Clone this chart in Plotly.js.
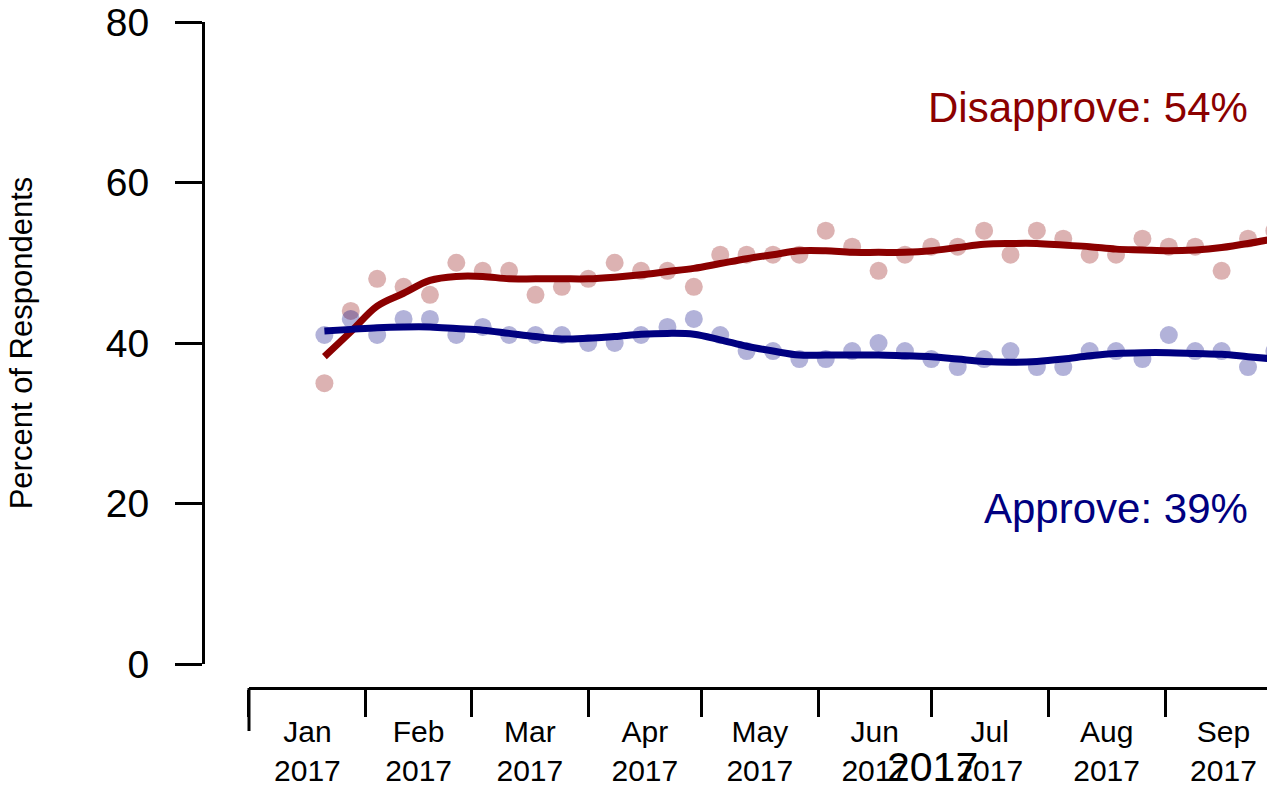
<!DOCTYPE html>
<html>
<head>
<meta charset="utf-8">
<script src="https://cdn.plot.ly/plotly-3.0.1.min.js"></script>
<style>html,body{margin:0;padding:0;background:#fff;}#chart{width:1267px;height:786px;}</style>
</head>
<body>
<div id="chart"></div>
<script>
// Weekly poll dates
var pollDates = ['2017-01-21','2017-01-28','2017-02-04','2017-02-11','2017-02-18','2017-02-25',
  '2017-03-04','2017-03-11','2017-03-18','2017-03-25','2017-04-01','2017-04-08','2017-04-15',
  '2017-04-22','2017-04-29','2017-05-06','2017-05-13','2017-05-20','2017-05-27','2017-06-03',
  '2017-06-10','2017-06-17','2017-06-24','2017-07-01','2017-07-08','2017-07-15','2017-07-22',
  '2017-07-29','2017-08-05','2017-08-12','2017-08-19','2017-08-26','2017-09-02','2017-09-09',
  '2017-09-16','2017-09-23','2017-09-30'];
// Raw weekly values (percent)
var disapprove = [35,44,48,47,46,50,49,49,46,47,48,50,49,49,47,51,51,51,51,54,52,49,51,52,52,54,51,54,53,51,51,53,52,52,49,53,54];
var approve    = [41,43,41,43,43,41,42,41,41,41,40,40,41,42,43,41,39,39,38,38,39,40,39,38,37,38,39,37,37,39,39,38,41,39,39,37,39];
// Smoothed trend lines
var disapproveTrend = [38.3,41.4,44.6,46.2,47.8,48.3,48.3,48.0,48.0,48.0,48.0,48.2,48.5,48.9,49.3,49.9,50.5,51.0,51.5,51.5,51.3,51.3,51.3,51.5,51.9,52.3,52.4,52.4,52.2,52.0,51.7,51.6,51.5,51.6,51.9,52.4,53.0];
var approveTrend    = [41.5,41.7,41.9,42.0,42.0,41.8,41.6,41.2,40.8,40.5,40.6,40.8,41.1,41.2,41.1,40.4,39.6,39.0,38.5,38.5,38.5,38.5,38.4,38.3,38.0,37.7,37.6,37.7,38.0,38.4,38.7,38.8,38.8,38.7,38.6,38.3,38.0];
// Axis ticks and labels
var yTickVals = [0,20,40,60,80];
var yTickText = ['0','20','40','60','80'];
var xRange = ['2017-01-01','2017-09-28 01:00'];
var labelDisapprove = 'Disapprove: 54%';
var labelApprove = 'Approve: 39%';
var yTitle = 'Percent of Respondents';
var xTitle = '2017';

var RED = '#8B0000', NAVY = '#000080';
var FONT = 'Liberation Sans, Arial, sans-serif';

var traces = [
  {x: pollDates, y: disapprove, type:'scatter', mode:'markers', marker:{color:RED, size:18, opacity:0.3}, hoverinfo:'skip'},
  {x: pollDates, y: approve, type:'scatter', mode:'markers', marker:{color:NAVY, size:18, opacity:0.3}, hoverinfo:'skip'},
  {x: pollDates, y: disapproveTrend, type:'scatter', mode:'lines', line:{color:RED, width:7, shape:'spline'}, hoverinfo:'skip'},
  {x: pollDates, y: approveTrend, type:'scatter', mode:'lines', line:{color:NAVY, width:7, shape:'spline'}, hoverinfo:'skip'}
];

var layout = {
  width:1267, height:786,
  margin:{l:203, r:0, t:22, b:98, pad:0},
  paper_bgcolor:'#fff', plot_bgcolor:'#fff',
  showlegend:false,
  font:{family:FONT, color:'#000'},
  xaxis:{
    domain:[0.04323,1], anchor:'free', position:0,
    type:'date', range:xRange,
    tick0:'2017-01-01', dtick:'M1', tickformat:'%b<br>%Y', ticklabelmode:'period',
    ticks:'outside', ticklen:27, tickwidth:3, tickcolor:'#000',
    ticklabelstandoff:-11,
    showline:true, linewidth:3, linecolor:'#000',
    showgrid:false, zeroline:false,
    tickfont:{family:FONT, size:30, color:'#000'}
  },
  yaxis:{
    domain:[0.036,1], anchor:'free', position:0,
    range:[0,80], tickmode:'array', tickvals:yTickVals, ticktext:yTickText,
    ticks:'outside', ticklen:27, tickwidth:3, tickcolor:'#000',
    ticklabelstandoff:18,
    showline:true, linewidth:3, linecolor:'#000',
    showgrid:false, zeroline:false,
    tickfont:{family:FONT, size:39, color:'#000'},
    title:{text:yTitle, font:{family:FONT, size:31, color:'#000'}, standoff:62}
  },
  shapes:[
    {type:'line', xref:'paper', yref:'paper', x0:0.04323, x1:0.04323, y0:0, y1:-0.0646, line:{color:'#000', width:3}}
  ],
  annotations:[
    {text:labelDisapprove, xref:'paper', yref:'paper', x:0.984, y:0.871, xanchor:'right', yanchor:'middle', showarrow:false, font:{family:FONT, size:42, color:RED}},
    {text:labelApprove, xref:'paper', yref:'paper', x:0.984, y:0.270, xanchor:'right', yanchor:'middle', showarrow:false, font:{family:FONT, size:42, color:NAVY}},
    {text:xTitle, xref:'paper', yref:'paper', x:0.686, y:-0.1186, xanchor:'center', yanchor:'middle', showarrow:false, font:{family:FONT, size:41, color:'#000'}}
  ]
};

Plotly.newPlot('chart', traces, layout, {staticPlot:true, displayModeBar:false});
</script>
</body>
</html>
